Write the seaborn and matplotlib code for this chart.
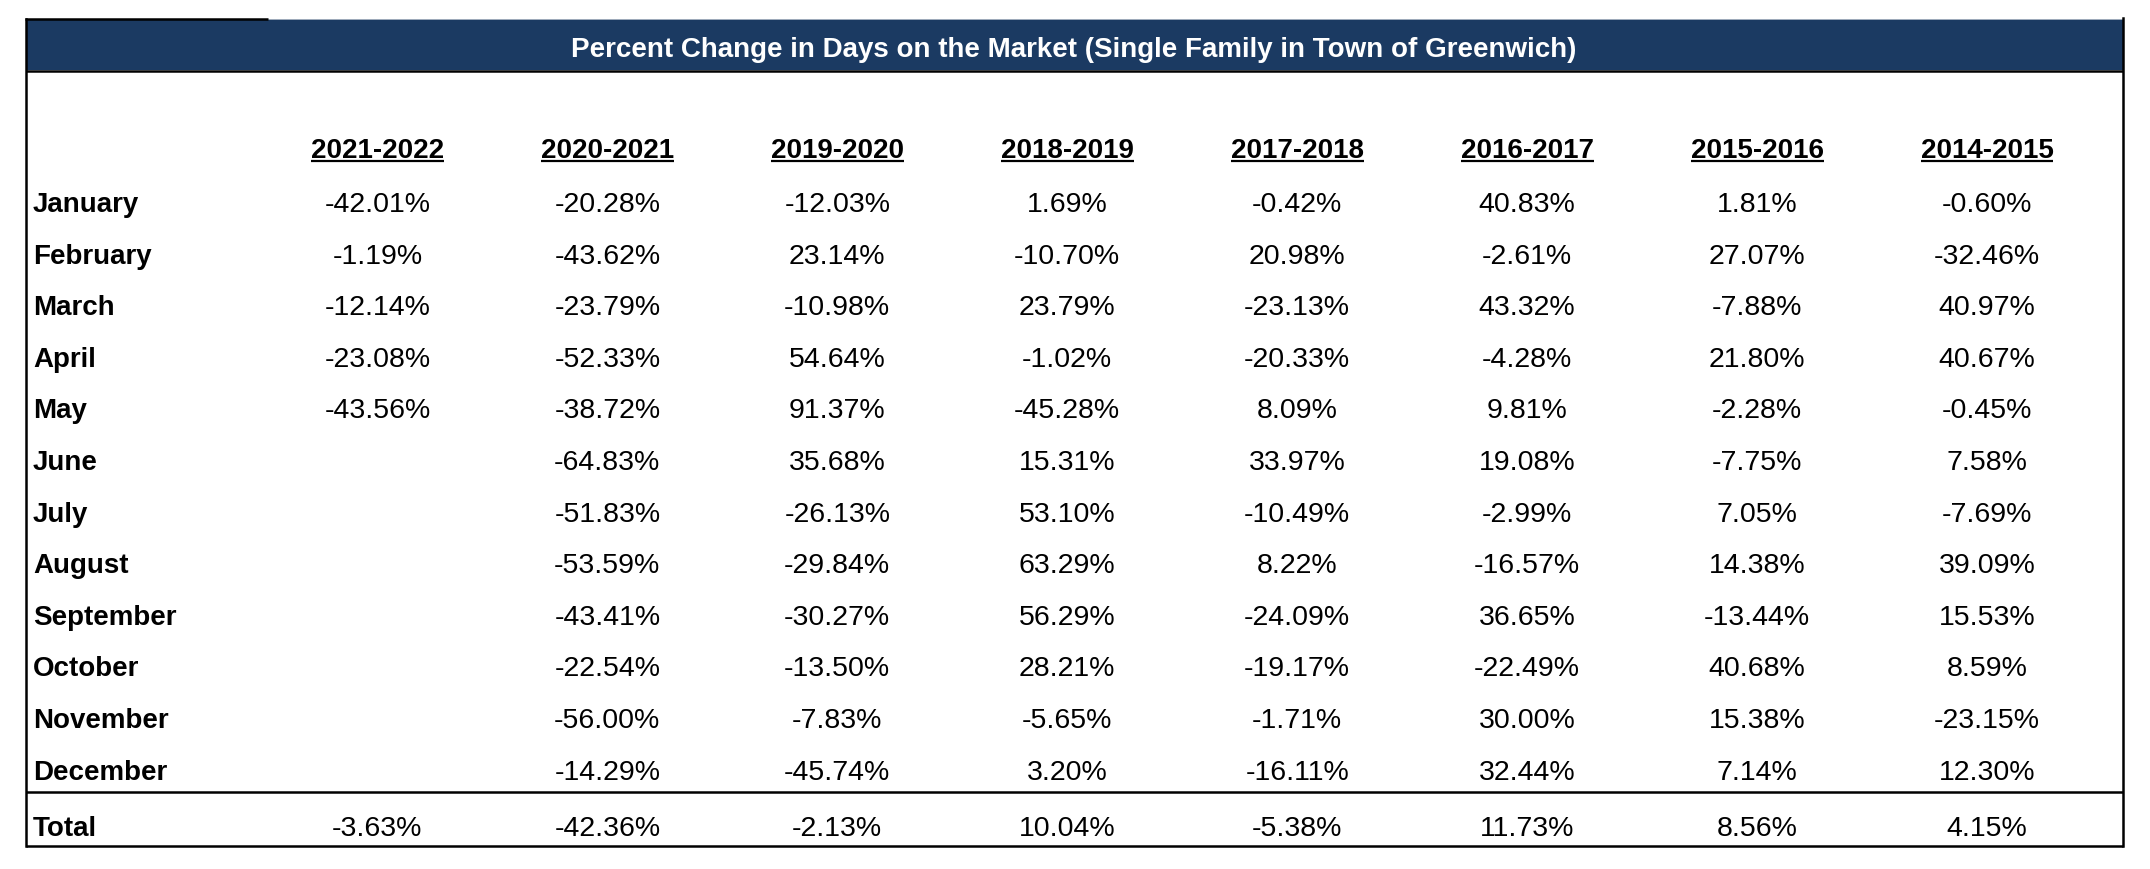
import numpy as np
import pandas as pd
import matplotlib
matplotlib.use("Agg")
import matplotlib.pyplot as plt
from matplotlib.colors import ListedColormap
from matplotlib.lines import Line2D
from matplotlib.patches import Rectangle
import seaborn as sns

# table content
title = "Percent Change in Days on the Market (Single Family in Town of Greenwich)"
months = ["January", "February", "March", "April", "May", "June", "July",
          "August", "September", "October", "November", "December"]
periods = ["2021-2022", "2020-2021", "2019-2020", "2018-2019",
           "2017-2018", "2016-2017", "2015-2016", "2014-2015"]

nan = np.nan
chg_2021_22 = [-42.01, -1.19, -12.14, -23.08, -43.56, nan, nan, nan, nan, nan, nan, nan]
chg_2020_21 = [-20.28, -43.62, -23.79, -52.33, -38.72, -64.83, -51.83, -53.59, -43.41, -22.54, -56.00, -14.29]
chg_2019_20 = [-12.03, 23.14, -10.98, 54.64, 91.37, 35.68, -26.13, -29.84, -30.27, -13.50, -7.83, -45.74]
chg_2018_19 = [1.69, -10.70, 23.79, -1.02, -45.28, 15.31, 53.10, 63.29, 56.29, 28.21, -5.65, 3.20]
chg_2017_18 = [-0.42, 20.98, -23.13, -20.33, 8.09, 33.97, -10.49, 8.22, -24.09, -19.17, -1.71, -16.11]
chg_2016_17 = [40.83, -2.61, 43.32, -4.28, 9.81, 19.08, -2.99, -16.57, 36.65, -22.49, 30.00, 32.44]
chg_2015_16 = [1.81, 27.07, -7.88, 21.80, -2.28, -7.75, 7.05, 14.38, -13.44, 40.68, 15.38, 7.14]
chg_2014_15 = [-0.60, -32.46, 40.97, 40.67, -0.45, 7.58, -7.69, 39.09, 15.53, 8.59, -23.15, 12.30]
totals = [-3.63, -42.36, -2.13, 10.04, -5.38, 11.73, 8.56, 4.15]

monthly = pd.DataFrame(
    np.column_stack([chg_2021_22, chg_2020_21, chg_2019_20, chg_2018_19,
                     chg_2017_18, chg_2016_17, chg_2015_16, chg_2014_15]),
    index=months, columns=periods)
total_df = pd.DataFrame([totals], index=["Total"], columns=periods)


def pct_labels(df):
    return df.map(lambda v: "" if pd.isna(v) else f"{v:.2f}%").values


sns.set_theme(style="white")
plt.rcParams["font.family"] = ["Liberation Sans", "DejaVu Sans"]

W, H = 2150, 870
fig = plt.figure(figsize=(W / 100, H / 100), dpi=100)
fig.patch.set_facecolor("white")


def fx(x):
    return x / W


def fy(y):
    return 1 - y / H


FS_VAL = 20.5
FS_BOLD = 20
NAVY = "#1b3a62"
white_cmap = ListedColormap(["white"])

# geometry in pixels
col_w = 229.95
left = 377.4 - col_w / 2
right = left + col_w * len(periods)
row_h = 51.6
top_m = 205 - row_h / 2
bot_m = top_m + row_h * len(months)

ax_m = fig.add_axes([fx(left), fy(bot_m), (right - left) / W, (bot_m - top_m) / H])
ax_t = fig.add_axes([fx(left), fy(829 + row_h / 2), (right - left) / W, row_h / H])

annot_kws = {"fontsize": FS_VAL, "color": "black"}
for ax, df in [(ax_m, monthly), (ax_t, total_df)]:
    sns.heatmap(df, ax=ax, cmap=white_cmap, cbar=False, annot=pct_labels(df),
                fmt="", annot_kws=annot_kws, xticklabels=False,
                yticklabels=list(df.index), linewidths=0)
    ax.set_xlabel("")
    ax.set_ylabel("")
    for s in ax.spines.values():
        s.set_visible(False)
    ax.tick_params(axis="y", length=0, pad=(left - 33) * 0.72, labelcolor="black")
    for lab in ax.get_yticklabels():
        lab.set_ha("left")
        lab.set_fontweight("bold")
        lab.set_fontsize(FS_BOLD)
        lab.set_rotation(0)
        lab.set_color("black")

# column headers, bold and underlined
headers = []
for i, p in enumerate(periods):
    t = ax_m.text(i + 0.5, (158 - top_m) / row_h, p, ha="center", va="baseline",
                  fontsize=FS_BOLD, fontweight="bold", color="black", clip_on=False)
    headers.append(t)

# title bar
fig.add_artist(Rectangle((fx(26), fy(71)), fx(2123) - fx(26), (71 - 20.5) / H,
                         transform=fig.transFigure, facecolor=NAVY,
                         edgecolor="none", zorder=1))
fig.text(fx(1074), fy(50), title, ha="center", va="center", color="white",
         fontsize=FS_BOLD, fontweight="bold", zorder=3)


def hline(x0, x1, y, lw=1.8, color="black"):
    fig.add_artist(Line2D([fx(x0), fx(x1)], [fy(y), fy(y)], transform=fig.transFigure,
                          color=color, lw=lw, solid_capstyle="butt", zorder=4))


def vline(x, y0, y1, lw=1.8, color="black"):
    fig.add_artist(Line2D([fx(x), fx(x)], [fy(y0), fy(y1)], transform=fig.transFigure,
                          color=color, lw=lw, solid_capstyle="projecting", zorder=4))


# frame
hline(26, 2123, 19.8, lw=0.7, color="#9aa8b8")
hline(25, 268, 19.8, lw=1.8)
hline(26, 2123, 71.5, lw=1.8)
vline(26, 20, 847)
vline(2123, 19, 847)
hline(26, 2123, 847)
hline(26, 2123, 792.5)

# underline headers using their rendered extents
fig.canvas.draw()
for t in headers:
    bb = t.get_window_extent()
    hline(bb.x0, bb.x1, 161.5, lw=1.6)

fig.savefig("out.png", dpi=100, facecolor="white")
